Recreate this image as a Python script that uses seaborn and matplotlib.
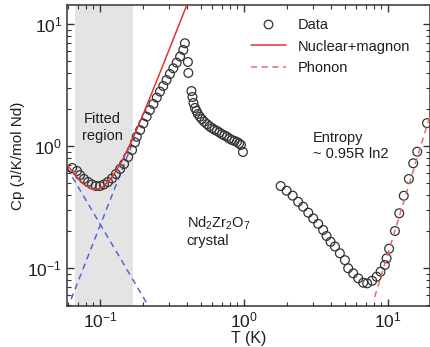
import numpy as np
import pandas as pd
import matplotlib
matplotlib.use("Agg")
import matplotlib.pyplot as plt
from matplotlib.lines import Line2D
from matplotlib.ticker import LogLocator, NullFormatter
import seaborn as sns

# ---------------- data ----------------
# low-temperature branch (fitted region up to the peak)
low_T = [0.064, 0.0692, 0.0726, 0.0774, 0.0826, 0.088, 0.0938, 0.100, 0.1066,
         0.1136, 0.1212, 0.129, 0.138, 0.147, 0.157, 0.167, 0.175, 0.180, 0.190,
         0.200, 0.211, 0.222, 0.235, 0.248, 0.261, 0.275, 0.290, 0.306, 0.323,
         0.341, 0.360, 0.379, 0.389]
low_Cp = [0.660, 0.624, 0.578, 0.537, 0.507, 0.484, 0.470, 0.470, 0.484,
          0.507, 0.542, 0.589, 0.648, 0.712, 0.813, 0.927, 1.07, 1.19, 1.35,
          1.53, 1.74, 1.97, 2.21, 2.49, 2.79, 3.10, 3.47, 3.89, 4.33,
          4.82, 5.40, 6.12, 6.95]
# middle branch (above the peak, up to 1 K)
mid_T = [0.408, 0.411, 0.432, 0.439, 0.446, 0.457, 0.468, 0.479, 0.494, 0.510,
         0.530, 0.554, 0.576, 0.600, 0.624, 0.649, 0.676, 0.703, 0.732, 0.762,
         0.793, 0.825, 0.860, 0.894, 0.925, 0.953, 0.984]
mid_Cp = [4.88, 3.97, 2.82, 2.52, 2.25, 2.05, 1.94, 1.83, 1.74, 1.66,
          1.58, 1.51, 1.45, 1.40, 1.36, 1.33, 1.29, 1.25, 1.22, 1.19,
          1.15, 1.12, 1.10, 1.08, 1.05, 1.02, 0.893]
# high-temperature branch
high_T = [1.80, 1.98, 2.18, 2.38, 2.58, 2.80, 3.03, 3.28, 3.55, 3.75, 4.00,
          4.29, 4.64, 5.03, 5.30, 5.74, 6.22, 6.74, 7.18, 7.78, 8.35, 8.90,
          9.53, 9.80, 10.2, 11.2, 12.0, 12.9, 14.0, 15.0, 16.0, 18.7]
high_Cp = [0.470, 0.430, 0.392, 0.349, 0.318, 0.284, 0.255, 0.230, 0.205,
           0.183, 0.164, 0.150, 0.132, 0.116, 0.0995, 0.0905, 0.0824, 0.0758,
           0.0749, 0.0787, 0.0849, 0.0933, 0.106, 0.120, 0.144, 0.201, 0.281,
           0.391, 0.537, 0.722, 0.898, 1.54]

# Nuclear+magnon fit curve (red solid)
fit_T = [0.059, 0.065, 0.075, 0.085, 0.095, 0.105, 0.12, 0.14, 0.17, 0.20,
         0.25, 0.30, 0.35, 0.40, 0.42]
fit_Cp = [0.706, 0.605, 0.50, 0.45, 0.44, 0.465, 0.544, 0.726, 1.17, 1.83,
          3.51, 6.02, 9.54, 14.2, 16.4]
# nuclear contribution (blue dashed, falling)
nuc_T = [0.059, 0.22]
nuc_Cp = [0.66, 0.0475]
# magnon contribution (blue dashed, rising)
mag_T = [0.063, 0.175]
mag_Cp = [0.0555, 1.19]
# phonon contribution (red dashed)
ph_T = [8.1, 20.0]
ph_Cp = [0.058, 1.9]

# fitted region limits
fit_region = [0.067, 0.170]

# ---------------- figure ----------------
sns.set_style("ticks")
plt.rcParams["font.family"] = ["Liberation Sans", "DejaVu Sans"]
plt.rcParams["mathtext.fontset"] = "custom"
plt.rcParams["mathtext.rm"] = "Liberation Sans"
plt.rcParams["mathtext.it"] = "Liberation Sans:italic"
plt.rcParams["mathtext.bf"] = "Liberation Sans:bold"

txt = "#1e1e1e"
fig = plt.figure(figsize=(4.31, 3.47), dpi=100)
ax = fig.add_axes([0.1555, 0.118, 0.842, 0.8676])

ax.axvspan(fit_region[0], fit_region[1], color="#e4e4e4", zorder=0, lw=0)

red = "#e5322d"
blue = "#5566dd"

sns.lineplot(x=nuc_T, y=nuc_Cp, ax=ax, color=blue, lw=1.1, dashes=(4, 3), zorder=2)
sns.lineplot(x=mag_T, y=mag_Cp, ax=ax, color=blue, lw=1.1, dashes=(4, 3), zorder=2)

data = pd.DataFrame({"T": low_T + mid_T + high_T, "Cp": low_Cp + mid_Cp + high_Cp})
sns.scatterplot(data=data, x="T", y="Cp", ax=ax, marker="o", s=40,
                facecolor="none", edgecolor="#333333", linewidth=0.9, zorder=3)

sns.lineplot(x=fit_T, y=fit_Cp, ax=ax, color=red, lw=1.1, zorder=4, sort=True)
sns.lineplot(x=ph_T, y=ph_Cp, ax=ax, color="#e86a6a", lw=1.1, dashes=(4, 3), zorder=4)

ax.set_xscale("log")
ax.set_yscale("log")
ax.set_xlim(0.059, 19.6)
ax.set_ylim(0.0488, 14.3)

ax.xaxis.set_minor_locator(LogLocator(base=10, subs=np.arange(2, 10), numticks=20))
ax.yaxis.set_minor_locator(LogLocator(base=10, subs=np.arange(2, 10), numticks=20))
ax.xaxis.set_minor_formatter(NullFormatter())
ax.yaxis.set_minor_formatter(NullFormatter())
ax.tick_params(which="both", direction="in", top=True, right=True, colors="#333333",
               labelcolor=txt, labelsize=12.5)
ax.tick_params(which="major", length=5, width=1)
ax.tick_params(which="minor", length=3, width=0.8)
for s in ax.spines.values():
    s.set_color("#333333")
    s.set_linewidth(1.1)

ax.set_xlabel("T (K)", fontsize=11.5, color=txt, labelpad=0)
ax.set_ylabel("Cp (J/K/mol Nd)", fontsize=11, color=txt, labelpad=2)

ax.text(0.104, 1.42, "Fitted\nregion", ha="center", va="center", fontsize=10.5,
        color=txt, linespacing=1.2)
ax.text(3.0, 1.0, "Entropy\n~ 0.95R ln2", ha="left", va="center", fontsize=10.5,
        color=txt, linespacing=1.2)
ax.text(0.40, 0.20, "Nd$_\\mathdefault{2}$Zr$_\\mathdefault{2}$O$_\\mathdefault{7}$\ncrystal",
        ha="left", va="center", fontsize=10.5, color=txt, linespacing=1.15)

handles = [
    Line2D([], [], ls="none", marker="o", mfc="none", mec="#333333", ms=6.2, mew=0.9),
    Line2D([], [], color=red, lw=1.1),
    Line2D([], [], color="#e86a6a", lw=1.1, dashes=(4, 3)),
]
ax.legend(handles, ["Data", "Nuclear+magnon", "Phonon"], loc="upper left",
          bbox_to_anchor=(0.478, 0.99), frameon=False, fontsize=10.5,
          handlelength=2.4, handletextpad=0.8, labelspacing=0.5,
          labelcolor=txt, borderaxespad=0.3)

fig.savefig("out.png", dpi=100)
